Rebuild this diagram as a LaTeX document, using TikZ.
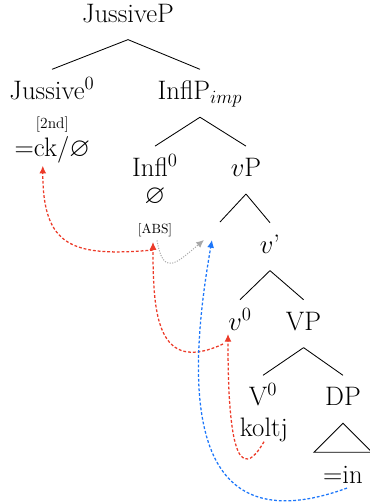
\RequirePackage{fix-cm}
\documentclass[tikz,border=0pt]{standalone}
\usepackage{amsmath,amssymb}
\usepackage{tikz}
\usetikzlibrary{arrows.meta,calc}
\definecolor{agr}{RGB}{236,58,40}
\definecolor{mov}{RGB}{28,118,250}
\definecolor{lnk}{RGB}{168,168,168}
\tikzset{
  cat/.style={anchor=base,font=\fontsize{19}{22}\selectfont,inner sep=0pt,text height=13pt,text depth=4pt,outer ysep=0.3cm},
  lex/.style={anchor=base,font=\fontsize{19}{22}\selectfont,inner sep=0pt},
  feat/.style={anchor=base,font=\fontsize{9.5}{11}\selectfont,inner sep=0pt},
  br/.style={line width=0.6pt},
  tip/.style={-{Latex[length=5.5pt,width=5pt]}},
  agree/.style={tip,draw=agr,line width=0.9pt,dash pattern=on 2pt off 1.4pt},
  move/.style={tip,draw=mov,line width=0.9pt,dash pattern=on 2pt off 1.4pt},
  link/.style={tip,draw=lnk,line width=0.7pt,dash pattern=on 0.8pt off 1pt}
}
\begin{document}
\begin{tikzpicture}
\useasboundingbox (0,0) rectangle (9.25,-12.6);
\node[cat] (jp) at (3.2,-0.55) {JussiveP};
\node[cat] (jus) at (1.3,-2.49) {Jussive$^0$};
\node[cat] (inflp) at (5.0,-2.49) {InflP$_{imp}$};
\node[feat,font=\fontsize{11}{13}\selectfont] (sec) at (1.31,-3.2) {[2nd]};
\node[lex] (ck) at (1.31,-3.9) {=ck/$\varnothing$};
\node[cat] (infl) at (3.875,-4.41) {Infl$^0$};
\node[cat] (vp) at (6.15,-4.41) {$v$P};
\node[lex] (nul) at (3.875,-5.075) {$\varnothing$};
\node[feat] (abs) at (3.875,-5.84) {[ABS]};
\coordinate (vpl) at (5.5,-5.55);
\coordinate (spec) at (5.25,-6.0);
\node[cat] (vbar) at (6.75,-6.325) {$v$'};
\node[cat] (v0) at (6.0,-8.25) {$v^0$};
\node[cat] (vvp) at (7.59,-8.25) {VP};
\node[cat] (V0) at (6.575,-10.14) {V$^0$};
\node[cat] (dp) at (8.575,-10.14) {DP};
\node[lex] (kol) at (6.6,-10.9) {koltj};
\node[lex] (in) at (8.575,-12.075) {=in};
\foreach \a/\b in {jp/jus,jp/inflp,inflp/infl,inflp/vp,vp/vbar,vbar/v0,vbar/vvp,vvp/V0,vvp/dp}
  \draw[br] (\a.south) -- (\b.north);
\draw[br] (vp.south) -- (vpl);
\draw[br] (dp.south) -- ++(-0.725,-0.725) -- ++(1.45,0) -- cycle;
\draw[agree] ([shift={(-0.05,-0.32)}]abs.south) to[out=185,in=270,looseness=1.5] ([shift={(-0.24,-0.07)}]ck.south);
\draw[agree] ([shift={(-0.425,-0.35)}]v0.base) to[out=205,in=270,looseness=1.5] ([shift={(-0.05,-0.12)}]abs.south);
\draw[agree] (kol.south) to[out=240,in=270,looseness=1.5] ([shift={(-0.3,-0.1)}]v0.base);
\draw[link] ([shift={(0.05,-0.08)}]abs.south) to[out=-80,in=220,looseness=2] ([xshift=-0.15cm]spec);
\draw[move] ([shift={(0.1,-0.12)}]in.south) to[out=200,in=260,looseness=1.5] ([xshift=0.05cm]spec);
\end{tikzpicture}
\end{document}
